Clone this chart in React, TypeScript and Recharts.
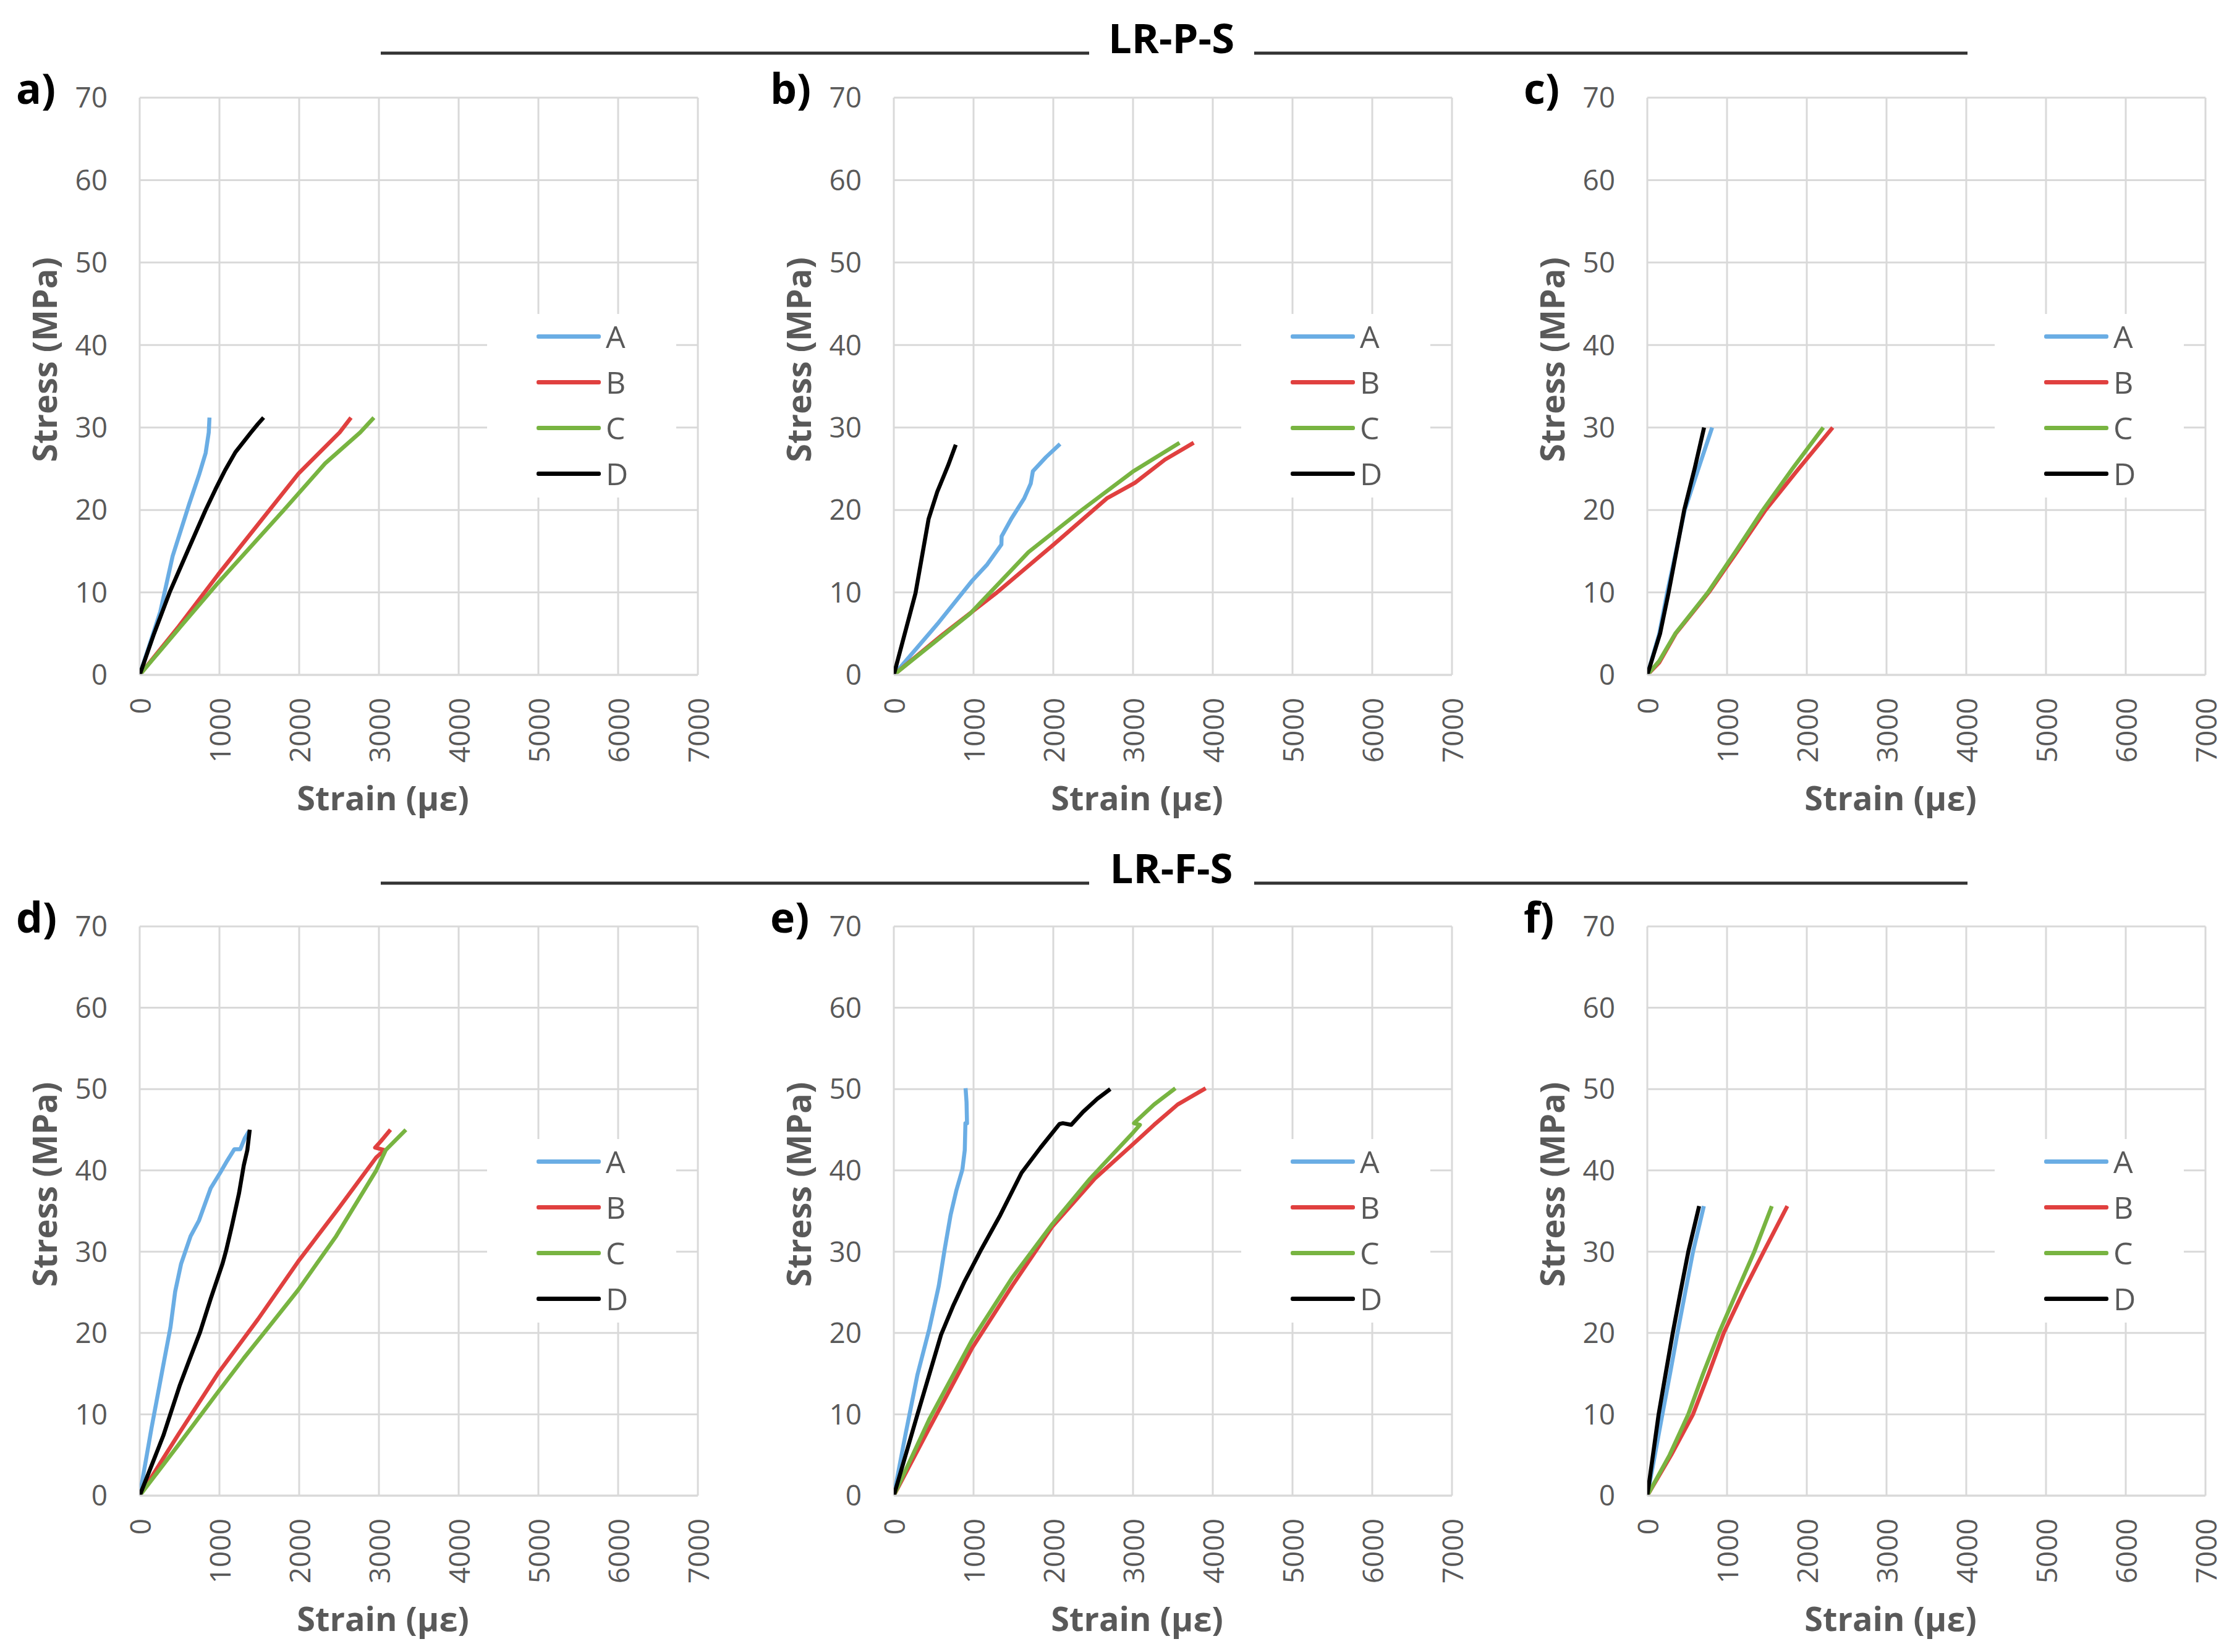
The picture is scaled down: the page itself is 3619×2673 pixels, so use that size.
import { CartesianGrid, Label, Legend, Line, LineChart, XAxis, YAxis } from 'recharts'

// Stress-strain curves, two sections (LR-P-S, LR-F-S) x three panels,
// four gauges (A-D) each. Excel-look: light grid, rotated strain ticks.

type Pt = [number, number] // [strain (με), stress (MPa)]

const STRAIN_TICKS = [0, 1000, 2000, 3000, 4000, 5000, 6000, 7000]
const STRESS_TICKS = [0, 10, 20, 30, 40, 50, 60, 70]
const SERIES_NAMES = ['A', 'B', 'C', 'D']
const SECTION_TITLES = ['LR-P-S', 'LR-F-S']
const PANEL_LETTERS = ['a)', 'b)', 'c)', 'd)', 'e)', 'f)']

// a)
const a_A: Pt[] = [[0, 0], [258, 7.65], [413, 14.4], [620, 20.7], [749, 24.4], [827, 26.9], [866, 29.4], [875, 31.2]]
const a_B: Pt[] = [[0, 0], [491, 5.9], [982, 12.15], [1990, 24.4], [2507, 29.4], [2650, 31.2]]
const a_C: Pt[] = [[0, 0], [490, 5.6], [982, 11.15], [1809, 20], [2326, 25.65], [2765, 29.4], [2937, 31.2]]
const a_D: Pt[] = [[0, 0], [180, 5], [375, 10], [600, 15], [827, 20], [950, 22.5], [1070, 24.8], [1200, 27], [1395, 29.4], [1480, 30.4], [1554, 31.2]]

// b)
const b_A: Pt[] = [[0, 0], [545, 6.15], [981, 11.4], [1172, 13.4], [1349, 15.8], [1352, 16.8], [1472, 18.9], [1635, 21.4], [1717, 23.2], [1744, 24.7], [1908, 26.4], [2085, 28]]
const b_B: Pt[] = [[0, 0], [600, 4.8], [1281, 9.9], [2003, 15.8], [2671, 21.4], [3025, 23.3], [3400, 26.1], [3761, 28.15]]
const b_C: Pt[] = [[0, 0], [954, 7.4], [1690, 14.9], [2344, 19.9], [2998, 24.65], [3583, 28.15]]
const b_D: Pt[] = [[0, 0], [272, 9.9], [436, 18.9], [545, 22.2], [681, 25.4], [777, 27.9]]

// c)
const c_A: Pt[] = [[0, 0], [150, 5], [250, 10], [360, 15], [470, 20], [640, 25], [813, 30]]
const c_B: Pt[] = [[0, 0], [150, 1.5], [356, 5], [771, 10], [1130, 15], [1483, 20], [1898, 25], [2325, 30]]
const c_C: Pt[] = [[0, 0], [150, 1.7], [350, 5], [760, 10], [1110, 15], [1450, 20], [1820, 25], [2207, 30]]
const c_D: Pt[] = [[0, 0], [80, 2.5], [160, 5], [267, 10], [365, 15], [463, 20], [593, 25], [712, 30]]

// d)
const d_A: Pt[] = [[0, 0], [148, 8.3], [297, 16.1], [386, 20.7], [445, 25.1], [519, 28.5], [638, 31.9], [742, 33.8], [890, 37.8], [1009, 39.7], [1098, 41.2], [1187, 42.6], [1261, 42.6], [1320, 44], [1370, 44.8]]
const d_B: Pt[] = [[0, 0], [490, 7.6], [979, 15], [1484, 21.7], [1988, 28.8], [2492, 35.3], [2967, 41.6], [3071, 42.5], [2952, 42.8], [3026, 43.6], [3145, 45]]
const d_C: Pt[] = [[0, 0], [475, 6.1], [979, 12.7], [1305, 16.9], [1632, 20.9], [1988, 25.3], [2463, 31.9], [2967, 40], [3086, 42.5], [3338, 45]]
const d_D: Pt[] = [[0, 0], [297, 7.4], [504, 13.6], [623, 16.7], [757, 20.1], [890, 24.2], [1038, 28.5], [1083, 30.1], [1157, 33.2], [1246, 37.2], [1305, 40.6], [1350, 42.5], [1380, 45]]

// e)
const e_A: Pt[] = [[0, 0], [148, 7.6], [297, 14.9], [445, 20.5], [564, 25.8], [638, 30.3], [712, 34.5], [786, 37.6], [860, 40.1], [890, 42.5], [898, 45.8], [918, 45.8], [912, 48.4], [900, 50.1]]
const e_B: Pt[] = [[0, 0], [445, 8.3], [979, 18.1], [1484, 25.8], [1988, 33.1], [2522, 39], [2997, 43.2], [3264, 45.6], [3560, 48.1], [3911, 50.1]]
const e_C: Pt[] = [[0, 0], [445, 9.4], [979, 19.1], [1484, 26.8], [1988, 33.4], [2463, 39], [2997, 44.6], [3086, 45.6], [3012, 45.8], [3264, 48.1], [3531, 50.1]]
const e_D: Pt[] = [[0, 0], [297, 10], [593, 19.8], [742, 23.3], [890, 26.4], [1098, 30.3], [1335, 34.5], [1602, 39.7], [1840, 42.8], [2077, 45.7], [2120, 45.8], [2225, 45.6], [2374, 47.2], [2552, 48.8], [2715, 50]]

// f)
const f_A: Pt[] = [[0, 0], [95, 5], [189, 10], [285, 15], [378, 20], [475, 25], [573, 30], [709, 35.6]]
const f_B: Pt[] = [[0, 0], [150, 2.5], [300, 5], [573, 10], [770, 15], [958, 20], [1200, 25], [1460, 30], [1756, 35.6]]
const f_C: Pt[] = [[0, 0], [140, 2.5], [280, 5], [514, 10], [700, 15], [899, 20], [1120, 25], [1342, 30], [1561, 35.6]]
const f_D: Pt[] = [[0, 0], [142, 10], [230, 15], [319, 20], [415, 25], [514, 30], [650, 35.6]]

const PANELS: Pt[][][] = [
  [a_A, a_B, a_C, a_D],
  [b_A, b_B, b_C, b_D],
  [c_A, c_B, c_C, c_D],
  [d_A, d_B, d_C, d_D],
  [e_A, e_B, e_C, e_D],
  [f_A, f_B, f_C, f_D],
]

const COLORS = ['#6aade4', '#e0403f', '#78b441', '#000000']
const FONT = "'Open Sans', sans-serif"
const TICK_TEXT = '#595959'
const GRID = '#d9d9d9'

// layout (page px)
const COL_LEFT = [226, 1446, 2665]
const ROW_TOP = [158, 1499]
const ROW_H = [934, 921]
const PLOT_W = 903
const M_LEFT = 60
const M_TOP = 40
const M_RIGHT = 40
const Y_W = 160
const X_H = 250

function StrainTick({ x, y, payload }: any) {
  const ty = Number(y) + 37
  return (
    <text
      x={x}
      y={ty}
      transform={`rotate(-90 ${x} ${ty})`}
      textAnchor="end"
      dominantBaseline="central"
      fill={TICK_TEXT}
      fontSize={46}
      fontFamily={FONT}
    >
      {payload.value}
    </text>
  )
}

function LegendBox({ payload }: any) {
  return (
    <div style={{ position: 'relative', width: 306, height: 297, background: '#ffffff' }}>
      {(payload || []).map((e: any, i: number) => (
        <div key={e.value} style={{ position: 'absolute', left: 80, top: 36 + i * 74 - 30, height: 60, display: 'flex', alignItems: 'center' }}>
          <div style={{ width: 104, height: 7, borderRadius: 3, background: e.color }} />
          <span style={{ marginLeft: 8, fontFamily: FONT, fontSize: 50, color: TICK_TEXT, lineHeight: '60px' }}>{e.value}</span>
        </div>
      ))}
    </div>
  )
}

function Panel({ idx }: { idx: number }) {
  const row = Math.floor(idx / 3)
  const col = idx % 3
  const h = ROW_H[row]
  const width = M_LEFT + Y_W + PLOT_W + M_RIGHT
  const height = M_TOP + h + X_H
  const plotLeft = M_LEFT + Y_W
  const series = PANELS[idx].map((pts) => pts.map(([x, y]) => ({ x, y })))
  return (
    <div style={{ position: 'absolute', left: COL_LEFT[col] - plotLeft, top: ROW_TOP[row] - M_TOP }}>
      <LineChart width={width} height={height} margin={{ top: M_TOP, right: M_RIGHT, bottom: 0, left: M_LEFT }}>
        <CartesianGrid stroke={GRID} strokeWidth={3} />
        <XAxis
          dataKey="x"
          type="number"
          domain={[0, 7000]}
          ticks={STRAIN_TICKS}
          interval={0}
          height={X_H}
          tickSize={0}
          tickMargin={0}
          tick={<StrainTick />}
          axisLine={{ stroke: GRID, strokeWidth: 3 }}
          allowDataOverflow
        >
          <Label
            content={() => (
              <text
                x={plotLeft + PLOT_W / 2 - 58}
                y={M_TOP + h + 198}
                textAnchor="middle"
                dominantBaseline="central"
                fill={TICK_TEXT}
                fontSize={54}
                fontWeight={700}
                fontFamily={FONT}
              >
                Strain (με)
              </text>
            )}
          />
        </XAxis>
        <YAxis
          type="number"
          domain={[0, 70]}
          ticks={STRESS_TICKS}
          interval={0}
          width={Y_W}
          tickSize={0}
          tickMargin={52}
          axisLine={false}
          tick={{ fill: TICK_TEXT, fontSize: 46, fontFamily: FONT }}
          allowDataOverflow
        >
          <Label
            content={() => {
              const lx = plotLeft - 155
              const ly = M_TOP + h / 2 - 43
              return (
                <text
                  x={lx}
                  y={ly}
                  transform={`rotate(-90 ${lx} ${ly})`}
                  textAnchor="middle"
                  dominantBaseline="central"
                  fill={TICK_TEXT}
                  fontSize={54}
                  fontWeight={700}
                  fontFamily={FONT}
                >
                  Stress (MPa)
                </text>
              )
            }}
          />
        </YAxis>
        <Legend
          layout="vertical"
          align="center"
          verticalAlign="middle"
          content={<LegendBox />}
          wrapperStyle={{ left: plotLeft + 562, top: M_TOP + (row === 0 ? 350 : 344), width: 306, height: 297 }}
        />
        {series.map((d, i) => (
          <Line
            key={SERIES_NAMES[i]}
            data={d}
            dataKey="y"
            name={SERIES_NAMES[i]}
            type="linear"
            stroke={COLORS[i]}
            strokeWidth={6.5}
            strokeLinejoin="round"
            dot={false}
            activeDot={false}
            isAnimationActive={false}
          />
        ))}
      </LineChart>
    </div>
  )
}

export default function App() {
  return (
    <div style={{ position: 'absolute', left: 0, top: 0, width: 3619, height: 2673, background: '#ffffff', overflow: 'hidden' }}>
      <svg width={3619} height={2673} style={{ position: 'absolute', left: 0, top: 0 }}>
        {SECTION_TITLES.map((t, r) => {
          const base = r === 0 ? 86 : 1429
          return (
            <g key={t}>
              <line x1={616} x2={1762} y1={base} y2={base} stroke="#333333" strokeWidth={5} />
              <line x1={2029} x2={3183} y1={base} y2={base} stroke="#333333" strokeWidth={5} />
              <text x={1895} y={base} textAnchor="middle" fontSize={67} fontWeight={700} fontFamily={FONT} fill="#000000">
                {t}
              </text>
            </g>
          )
        })}
        {PANEL_LETTERS.map((l, i) => (
          <text
            key={l}
            x={COL_LEFT[i % 3] - 200}
            y={ROW_TOP[Math.floor(i / 3)] + 10}
            fontSize={68}
            fontWeight={700}
            fontFamily={FONT}
            fill="#000000"
          >
            {l}
          </text>
        ))}
      </svg>
      {PANELS.map((_, i) => (
        <Panel key={i} idx={i} />
      ))}
    </div>
  )
}
